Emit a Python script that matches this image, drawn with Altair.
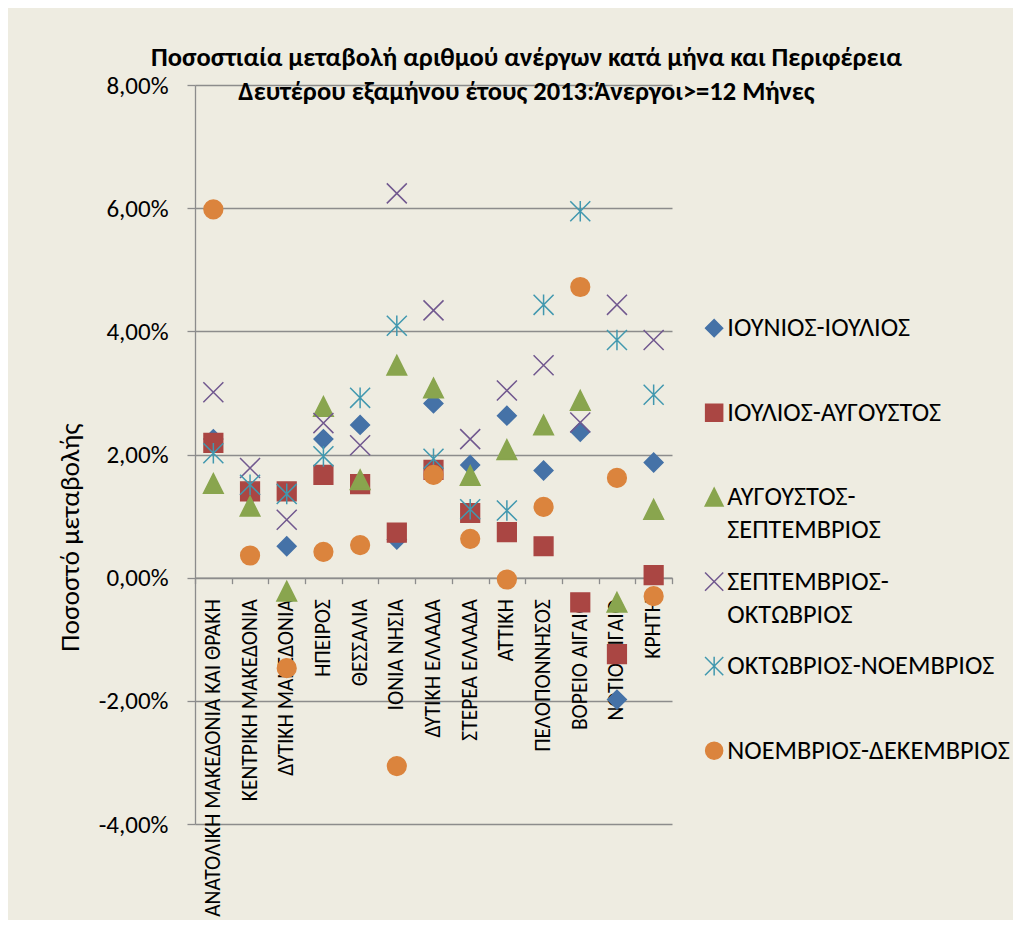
import altair as alt
import pandas as pd

regions = ["ΑΝΑΤΟΛΙΚΗ ΜΑΚΕΔΟΝΙΑ ΚΑΙ ΘΡΑΚΗ", "ΚΕΝΤΡΙΚΗ ΜΑΚΕΔΟΝΙΑ", "ΔΥΤΙΚΗ ΜΑΚΕΔΟΝΙΑ",
           "ΗΠΕΙΡΟΣ", "ΘΕΣΣΑΛΙΑ", "ΙΟΝΙΑ ΝΗΣΙΑ", "ΔΥΤΙΚΗ ΕΛΛΑΔΑ", "ΣΤΕΡΕΑ ΕΛΛΑΔΑ",
           "ΑΤΤΙΚΗ", "ΠΕΛΟΠΟΝΝΗΣΟΣ", "ΒΟΡΕΙΟ ΑΙΓΑΙΟ", "ΝΟΤΙΟ ΑΙΓΑΙΟ", "ΚΡΗΤΗ"]

series_names = ["ΙΟΥΝΙΟΣ-ΙΟΥΛΙΟΣ", "ΙΟΥΛΙΟΣ-ΑΥΓΟΥΣΤΟΣ", "ΑΥΓΟΥΣΤΟΣ-ΣΕΠΤΕΜΒΡΙΟΣ",
                "ΣΕΠΤΕΜΒΡΙΟΣ-ΟΚΤΩΒΡΙΟΣ", "ΟΚΤΩΒΡΙΟΣ-ΝΟΕΜΒΡΙΟΣ", "ΝΟΕΜΒΡΙΟΣ-ΔΕΚΕΜΒΡΙΟΣ"]
wrapped_names = ["ΑΥΓΟΥΣΤΟΣ-ΣΕΠΤΕΜΒΡΙΟΣ", "ΣΕΠΤΕΜΒΡΙΟΣ-ΟΚΤΩΒΡΙΟΣ"]

# percentage change (%)
jun_jul = [2.25, 1.35, 0.51, 2.25, 2.48, 0.62, 2.83, 1.83, 2.63, 1.74, 2.37, -1.98, 1.87]
jul_aug = [2.19, 1.40, 1.40, 1.67, 1.52, 0.73, 1.75, 1.05, 0.74, 0.51, -0.40, -1.24, 0.04]
aug_sep = [1.53, 1.16, -0.22, 2.78, 1.59, 3.45, 3.08, 1.66, 2.08, 2.48, 2.88, -0.40, 1.11]
sep_oct = [3.01, 1.78, 0.94, 2.51, 2.15, 6.24, 4.34, 2.25, 3.04, 3.45, 2.52, 4.43, 3.86]
oct_nov = [2.02, 1.51, 1.36, 1.97, 2.92, 4.09, 1.93, 1.11, 1.09, 4.43, 5.95, 3.86, 2.97]
nov_dec = [5.98, 0.36, -1.47, 0.42, 0.53, -3.06, 1.67, 0.63, -0.03, 1.15, 4.72, 1.62, -0.30]

y_ticks = [-0.04, -0.02, 0.0, 0.02, 0.04, 0.06, 0.08]

title_lines = ["Ποσοστιαία μεταβολή αριθμού ανέργων κατά μήνα και Περιφέρεια",
               "Δευτέρου εξαμήνου έτους 2013:Άνεργοι>=12 Μήνες"]
y_title = "Ποσοστό μεταβολής"

colors = ["#4572A7", "#AA4643", "#89A54E", "#71588F", "#4198AF", "#DB843D"]
fills = ["#4572A7", "#AA4643", "#89A54E", "transparent", "transparent", "#DB843D"]
x_path = "M-1.07,-1.07L1.07,1.07M-1.07,1.07L1.07,-1.07"
star_path = "M-1.07,-1.07L1.07,1.07M-1.07,1.07L1.07,-1.07M0,-1.1L0,1.1"
shapes = ["diamond", "square", "M0,-1.05L1.05,1.05L-1.05,1.05Z", x_path, star_path, "circle"]

rows = []
for name, vals in zip(series_names, [jun_jul, jul_aug, aug_sep, sep_oct, oct_nov, nov_dec]):
    for reg, v in zip(regions, vals):
        rows.append({"series": name, "region": reg, "change": v / 100.0})
df = pd.DataFrame(rows)

FONT = "Carlito, Calibri, Lato, sans-serif"

wrap_cond = " || ".join(f"datum.label == '{w}'" for w in wrapped_names)
legend_expr = (f"({wrap_cond}) ? [split(datum.label, '-')[0] + '-', split(datum.label, '-')[1]]"
               " : [datum.label, '']")

def make_legend():
    return alt.Legend(title=None, labelExpr=legend_expr)

PLOT_W = 477
PLOT_H = 739

chart = alt.Chart(df).mark_point(filled=True, opacity=1, strokeWidth=1.5, size=350).encode(
    x=alt.X("region:N", sort=regions,
            scale=alt.Scale(type="band", paddingInner=0, paddingOuter=0),
            axis=alt.Axis(title=None, orient="bottom", offset=-PLOT_H / 3.0,
                          labelAngle=-90, labelFontSize=21.5, labelFont=FONT,
                          labelColor="#000000", labelPadding=15, labelLimit=500,
                          tickBand="extent", tickSize=6, tickColor="#8C8C8C",
                          tickWidth=1.3, domainColor="#8C8C8C", domainWidth=1.3,
                          grid=False, labelOverlap=False)),
    y=alt.Y("change:Q",
            scale=alt.Scale(domain=[-0.04, 0.08], nice=False, zero=False),
            axis=alt.Axis(title=y_title, values=y_ticks,
                          labelExpr="replace(replace(format(datum.value, '.2%'), '.', ','), '\u2212', '-')",
                          labelFontSize=25, labelFont=FONT, labelColor="#000000",
                          labelPadding=19, tickSize=8, tickColor="#8C8C8C", tickWidth=1.3,
                          domainColor="#8C8C8C", domainWidth=1.3,
                          grid=True, gridColor="#8C8C8C", gridWidth=1.3,
                          titleFont=FONT, titleFontSize=27.5, titleFontWeight="normal",
                          titleColor="#000000", titleX=-125, titleY=452,
                          titleAngle=270, titleAlign="center", titleBaseline="middle")),
    shape=alt.Shape("series:N", sort=series_names,
                    scale=alt.Scale(domain=series_names, range=shapes),
                    legend=make_legend()),
    fill=alt.Fill("series:N", sort=series_names,
                  scale=alt.Scale(domain=series_names, range=fills),
                  legend=make_legend()),
    stroke=alt.Stroke("series:N", sort=series_names,
                      scale=alt.Scale(domain=series_names, range=colors),
                      legend=make_legend()),
).properties(
    width=PLOT_W,
    height=PLOT_H,
    autosize=alt.AutoSizeParams(type="none"),
    padding={"left": 187, "top": 77, "right": 341, "bottom": 96},
    background="#EEECE1",
    title=alt.Title(text=title_lines, font=FONT, fontSize=26.5, fontWeight="bold",
                    color="#000000", anchor="middle", frame="group", dx=93,
                    lineHeight=34, baseline="bottom", offset=0, dy=59),
).configure(
    style={"guide-label": {"lineHeight": 33}}
).configure_view(
    stroke="transparent"
).configure_legend(
    orient="none", legendX=506, legendY=230, labelFont=FONT, labelFontSize=26.3,
    labelColor="#000000", labelLimit=500, symbolSize=290, symbolStrokeWidth=1.5,
    rowPadding=24.5, labelOffset=0, padding=0
)

chart.save("out.html", embed_options={"renderer": "svg", "actions": False})
